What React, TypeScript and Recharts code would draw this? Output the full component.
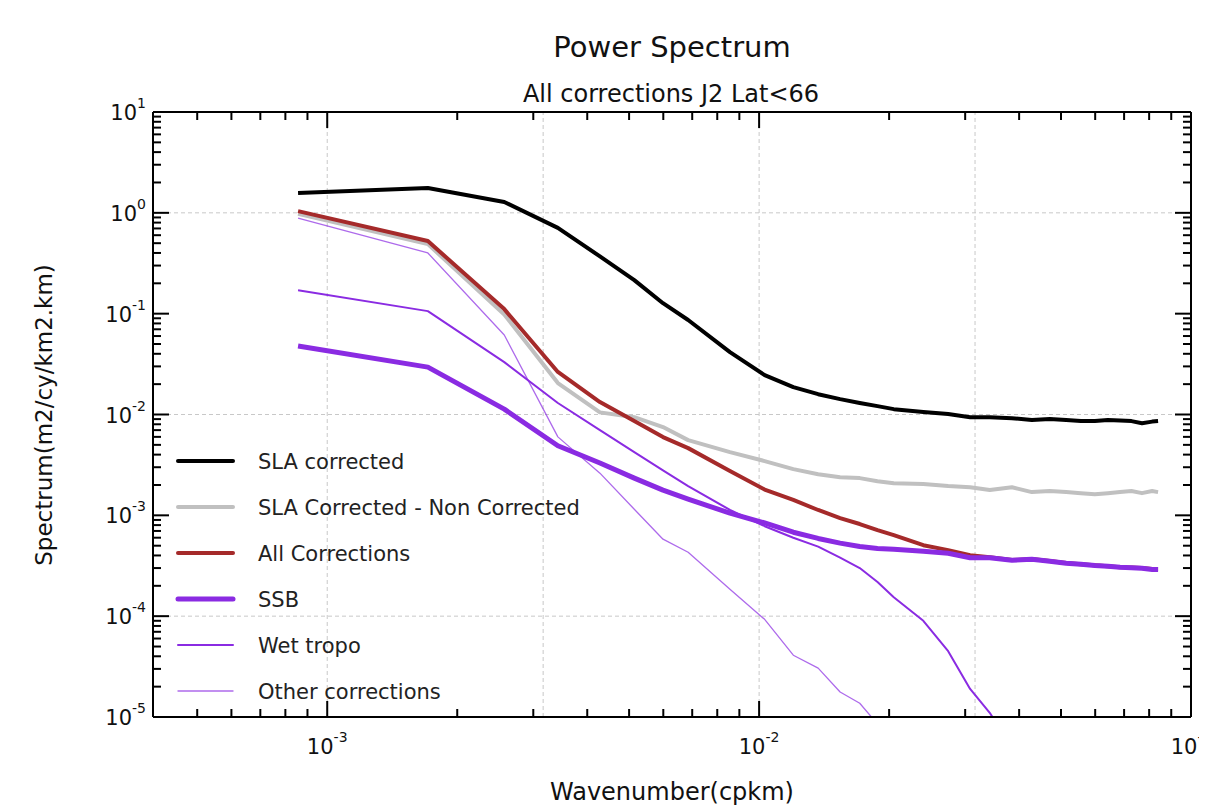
import { LineChart, Line, XAxis, YAxis, ReferenceLine, Legend } from 'recharts';

// wavenumber (cpkm)
const wavenumber = [
  0.000856, 0.00171, 0.00257, 0.00342, 0.00428, 0.00514, 0.00599, 0.00685, 0.00856, 0.0103,
  0.012, 0.0137, 0.0154, 0.0171, 0.0188, 0.0205, 0.024, 0.0274, 0.0308, 0.0342,
  0.0385, 0.0428, 0.0471, 0.0514, 0.0556, 0.0599, 0.0642, 0.0685, 0.0728, 0.077,
  0.0813, 0.0839,
];

const slaCorrected = [
  1.57, 1.76, 1.28, 0.71, 0.37, 0.215, 0.127, 0.0865, 0.0416, 0.0246,
  0.0187, 0.0159, 0.0142, 0.013, 0.0121, 0.0113, 0.0106, 0.0101, 0.0094, 0.0094,
  0.0092, 0.0088, 0.009, 0.0088, 0.0086, 0.0086, 0.0088, 0.0087, 0.0086, 0.0082,
  0.0085, 0.0086,
];

const slaDiff = [
  0.98, 0.49, 0.098, 0.0205, 0.0105, 0.0094, 0.0075, 0.00557, 0.00424, 0.00345,
  0.00287, 0.00256, 0.00239, 0.00234, 0.00218, 0.00208, 0.00204, 0.00195, 0.0019, 0.00178,
  0.0019, 0.0017, 0.00174, 0.0017, 0.00166, 0.00162, 0.00166, 0.0017, 0.00174, 0.00166,
  0.00174, 0.0017,
];

const allCorrections = [
  1.04, 0.525, 0.111, 0.0264, 0.0133, 0.0086, 0.00597, 0.00464, 0.00275, 0.0018,
  0.00142, 0.00113, 0.00094, 0.00082, 0.000713, 0.000637, 0.000506, 0.000452, 0.000403, 0.000385,
  0.00036, 0.000368, 0.000352, 0.000336, 0.000328, 0.00032, 0.000313, 0.000306, 0.000303, 0.0003,
  0.000293, 0.000293,
];

const ssb = [
  0.0477, 0.0295, 0.0113, 0.0049, 0.0033, 0.00234, 0.00178, 0.00145, 0.00105, 0.00084,
  0.00068, 0.00059, 0.00053, 0.00049, 0.00047, 0.00046, 0.00044, 0.00042, 0.00038, 0.00038,
  0.000358, 0.000366, 0.00035, 0.000335, 0.000327, 0.000318, 0.000312, 0.000305, 0.000302, 0.000298,
  0.000291, 0.000291,
];

const wetTropo = [
  0.171, 0.106, 0.0331, 0.013, 0.007, 0.00424, 0.00279, 0.00195, 0.00113, 0.00078,
  0.0006, 0.00049, 0.00038, 0.0003, 0.000218, 0.000154, 0.00009, 0.000045, 0.000019, 0.000011,
  0.000005, null, null, null, null, null, null, null, null, null,
  null, null,
];

const otherCorrections = [
  0.887, 0.4, 0.0614, 0.006, 0.00262, 0.00115, 0.00058, 0.00043, 0.000185, 0.000093,
  0.000041, 0.0000305, 0.0000177, 0.0000137, 0.0000085, null, null, null, null, null,
  null, null, null, null, null, null, null, null, null, null,
  null, null,
];

const xMajor = [0.001, 0.01, 0.1];
const xTicks = [
  0.0005, 0.0006, 0.0007, 0.0008, 0.0009, 0.001,
  0.002, 0.003, 0.004, 0.005, 0.006, 0.007, 0.008, 0.009, 0.01,
  0.02, 0.03, 0.04, 0.05, 0.06, 0.07, 0.08, 0.09, 0.1,
];
const yMajor = [0.00001, 0.0001, 0.001, 0.01, 0.1, 1, 10];
const yMinorSteps = [2, 3, 4, 5, 6, 7, 8, 9];
const yTicks = yMajor.flatMap((d) => (d < 10 ? [d, ...yMinorSteps.map((m) => d * m)] : [d]));

const xGrid = [0.001, 0.003162, 0.01, 0.03162];
const yGrid = [1, 0.01, 0.0001];

const series = [
  { key: 'sla', name: 'SLA corrected', color: '#000000', width: 4, opacity: 1 },
  { key: 'diff', name: 'SLA Corrected - Non Corrected', color: '#c0c0c0', width: 4, opacity: 1 },
  { key: 'all', name: 'All Corrections', color: '#a52a2a', width: 4, opacity: 1 },
  { key: 'ssb', name: 'SSB', color: '#8a2be2', width: 5, opacity: 1 },
  { key: 'wet', name: 'Wet tropo', color: '#8a2be2', width: 2, opacity: 1 },
  { key: 'other', name: 'Other corrections', color: '#8a2be2', width: 1.3, opacity: 0.7 },
];

const data = wavenumber.map((x, i) => ({
  x,
  sla: slaCorrected[i],
  diff: slaDiff[i],
  all: allCorrections[i],
  ssb: ssb[i],
  wet: wetTropo[i],
  other: otherCorrections[i],
}));

const FONT = 'DejaVu Sans';

function exponent(v: number) {
  return String(Math.round(Math.log10(v)));
}

function makeTick(side: 'bottom' | 'top' | 'left' | 'right', majors: number[]) {
  return (props: any) => {
    const { x, y, payload } = props;
    const v = payload.value;
    const major = majors.some((m) => Math.abs(m - v) / m < 1e-6);
    const len = major ? 16 : 8;
    let line;
    if (side === 'bottom') line = <line x1={x} y1={y} x2={x} y2={y - len} />;
    else if (side === 'top') line = <line x1={x} y1={y} x2={x} y2={y + len} />;
    else if (side === 'left') line = <line x1={x} y1={y} x2={x + len} y2={y} />;
    else line = <line x1={x} y1={y} x2={x - len} y2={y} />;
    let label = null;
    if (major && side === 'bottom') {
      label = (
        <text x={x} y={y + 37} textAnchor="middle" fontFamily={FONT} fontSize={21} fill="#111" stroke="none">
          10<tspan dy={-12} fontSize={14}>{exponent(v)}</tspan>
        </text>
      );
    } else if (major && side === 'left') {
      label = (
        <text x={x - 7} y={y + 8} textAnchor="end" fontFamily={FONT} fontSize={21} fill="#111" stroke="none">
          10<tspan dy={-12} fontSize={14}>{exponent(v)}</tspan>
        </text>
      );
    }
    return (
      <g stroke="#000" strokeWidth={2}>
        {line}
        {label}
      </g>
    );
  };
}

function renderLegend() {
  return (
    <svg width={460} height={280}>
      {series.map((s, i) => {
        const cy = 26 + i * 46;
        return (
          <g key={s.key}>
            <line x1={8} y1={cy} x2={63} y2={cy} stroke={s.color} strokeWidth={s.width} strokeOpacity={s.opacity} strokeLinecap="round" />
            <text x={88} y={cy + 7.5} fontFamily={FONT} fontSize={21} fill="#222">{s.name}</text>
          </g>
        );
      })}
    </svg>
  );
}

export default function App() {
  const axisLine = { stroke: '#000', strokeWidth: 2 };
  return (
    <div style={{ position: 'relative', width: 1199, height: 801, fontFamily: FONT }}>
      <LineChart width={1199} height={801} data={data} margin={{ top: 103, right: 15, bottom: 0, left: 0 }}>
        <XAxis xAxisId="b" dataKey="x" type="number" scale="log" domain={[0.000395, 0.1]} allowDataOverflow
          ticks={xTicks} interval={0} tickSize={0} tickMargin={0} tickLine={false} axisLine={axisLine}
          tick={makeTick('bottom', xMajor)} height={92} />
        <XAxis xAxisId="t" orientation="top" dataKey="x" type="number" scale="log" domain={[0.000395, 0.1]} allowDataOverflow
          ticks={xTicks} interval={0} tickSize={0} tickMargin={0} tickLine={false} axisLine={axisLine}
          tick={makeTick('top', xMajor)} height={1} />
        <YAxis yAxisId="l" type="number" scale="log" domain={[0.00001, 10]} allowDataOverflow
          ticks={yTicks} interval={0} tickSize={0} tickMargin={0} tickLine={false} axisLine={axisLine}
          tick={makeTick('left', yMajor)} width={145} />
        <YAxis yAxisId="r" orientation="right" type="number" scale="log" domain={[0.00001, 10]} allowDataOverflow
          ticks={yTicks} interval={0} tickSize={0} tickMargin={0} tickLine={false} axisLine={axisLine}
          tick={makeTick('right', yMajor)} width={1} />
        {xGrid.map((g) => (
          <ReferenceLine key={'x' + g} xAxisId="b" yAxisId="l" x={g} stroke="#c8c8c8" strokeDasharray="4 3" strokeWidth={1} />
        ))}
        {yGrid.map((g) => (
          <ReferenceLine key={'y' + g} xAxisId="b" yAxisId="l" y={g} stroke="#c8c8c8" strokeDasharray="4 3" strokeWidth={1} />
        ))}
        {series.map((s) => (
          <Line key={s.key} xAxisId="b" yAxisId="l" type="linear" dataKey={s.key} name={s.name}
            stroke={s.color} strokeWidth={s.width} strokeOpacity={s.opacity} dot={false}
            strokeLinejoin="round" isAnimationActive={false} connectNulls={false} />
        ))}
        <Legend layout="vertical" align="center" verticalAlign="middle" content={renderLegend}
          wrapperStyle={{ position: 'absolute', left: 162, top: 427, width: 460, height: 280 }} />
      </LineChart>
      <svg width={1199} height={801} style={{ position: 'absolute', left: 0, top: 0, pointerEvents: 'none' }}>
        <text x={664} y={49} textAnchor="middle" fontFamily={FONT} fontSize={29} fill="#111">Power Spectrum</text>
        <text x={663} y={94} textAnchor="middle" fontFamily={FONT} fontSize={24} fill="#111">All corrections J2 Lat&lt;66</text>
        <text x={664} y={792} textAnchor="middle" fontFamily={FONT} fontSize={24} fill="#111">Wavenumber(cpkm)</text>
        <text x={44} y={407} textAnchor="middle" fontFamily={FONT} fontSize={23} fill="#111" transform="rotate(-90 44 407)">
          Spectrum(m2/cy/km2.km)
        </text>
      </svg>
    </div>
  );
}
